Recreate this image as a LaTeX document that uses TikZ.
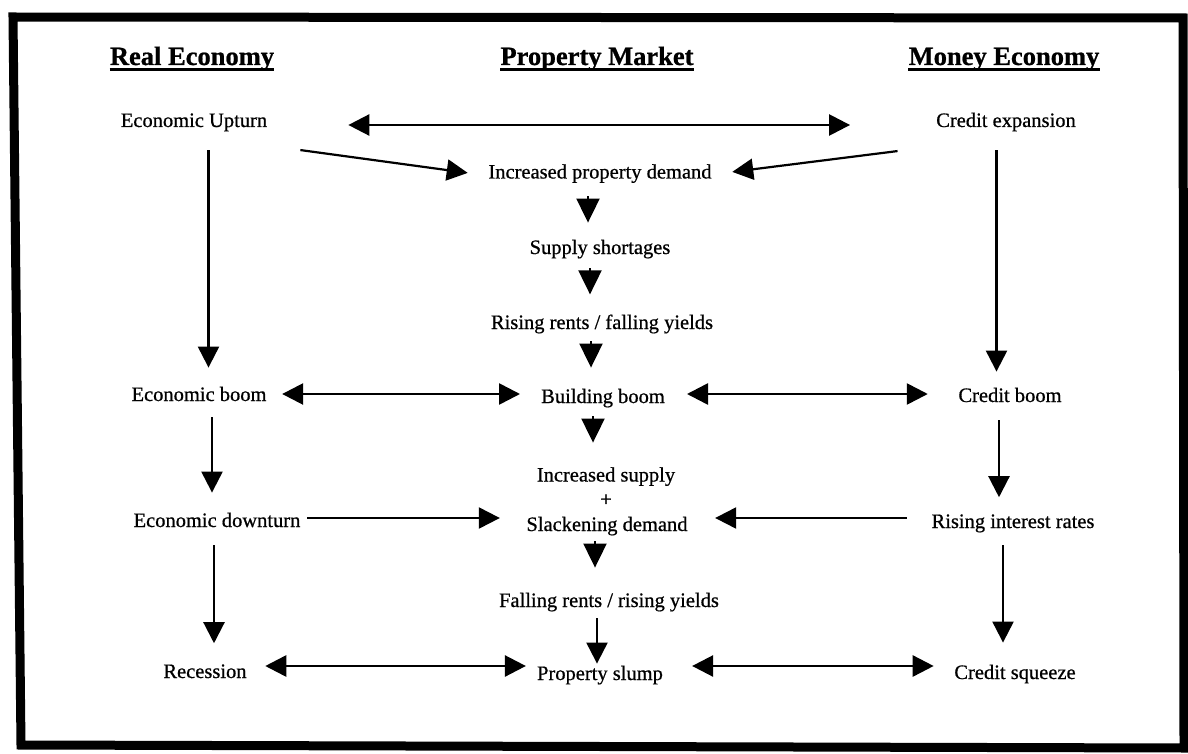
\documentclass[tikz,border=0pt]{standalone}
\usepackage{fontspec}
\setmainfont{Liberation Serif}[UprightFeatures={FakeBold=0.7},BoldFeatures={FakeBold=0.8}]
\usetikzlibrary{arrows.meta,calc}

\begin{document}
\begin{tikzpicture}[x=1pt,y=-1pt,
  lbl/.style={inner sep=0pt, anchor=base, font=\fontsize{20.5}{24.75}\selectfont},
  head/.style={inner sep=0pt, anchor=base, font=\fontsize{26.5}{30}\selectfont\bfseries},
  tip/.tip={Triangle[length=21pt,width=21pt]},
  arr/.style={line width=2.2pt, -tip},
  dbl/.style={line width=2.6pt, tip-tip},
  stub/.style={line width=2pt, -{Triangle[length=24pt,width=23pt]}},
  uline/.style={line width=2.8pt},
  frame/.style={line width=9pt, line join=miter}]

\useasboundingbox (0,0) rectangle (1188,754);
\draw[frame] (13,17) -- (1183,18) -- (1184,748) -- (21,745) -- cycle;

% column headings
\node[head] (hR) at (192,65) {Real Economy};
\node[head] (hP) at (597,65) {Property Market};
\node[head] (hM) at (1004,65) {Money Economy};
\foreach \h in {hR,hP,hM}
  \draw[uline] ([yshift=-4.5pt]\h.base west) -- ([yshift=-4.5pt]\h.base east);

% real economy
\node[lbl] (up)  at (194,127) {Economic Upturn};
\node[lbl] (eb)  at (199,401) {Economic boom};
\node[lbl] (ed)  at (217,527) {Economic downturn};
\node[lbl] (rec) at (205,678) {Recession};

% property market
\node[lbl] (ipd)  at (600,178.5) {Increased property demand};
\node[lbl] (ss)   at (600,254) {Supply shortages};
\node[lbl] (rr)   at (602,329) {Rising rents / falling yields};
\node[lbl] (bb)   at (603,403) {Building boom};
\node[lbl] (isup) at (606,481.5) {Increased supply};
\node[lbl] (plus) at (606,506) {+};
\node[lbl] (slk)  at (607,531) {Slackening demand};
\node[lbl] (fr)   at (609,607) {Falling rents / rising yields};
\node[lbl] (ps)   at (600,680) {Property slump};

% money economy
\node[lbl] (cexp) at (1006,127) {Credit expansion};
\node[lbl] (cb)   at (1010,402) {Credit boom};
\node[lbl] (rir)  at (1013,528) {Rising interest rates};
\node[lbl] (csq)  at (1015,679) {Credit squeeze};

% guide lines for the connectors
\coordinate (cL1) at (208.5,0);
\coordinate (cL2) at (212,0);
\coordinate (cL3) at (214,0);
\coordinate (cR1) at (996.5,0);
\coordinate (cR2) at (999,0);
\coordinate (cR3) at (1003,0);
\coordinate (m1) at (588,0);
\coordinate (m2) at (590,0);
\coordinate (m3) at (591,0);
\coordinate (m4) at (593,0);
\coordinate (m5) at (595,0);
\coordinate (m6) at (597,0);
\coordinate (r1) at (0,125);
\coordinate (r2) at (0,394);
\coordinate (r3) at (0,518);
\coordinate (r4) at (0,666);

% top row
\draw[dbl, shorten <=81pt, shorten >=86pt] (up.east |- r1) -- (cexp.west |- r1);
\draw[arr] ($(up.south east)+(33,18.5)$) -- ($(ipd.west)+(-20.5,-0.7)$);
\draw[arr] ($(cexp.south west)+(-38.5,19.5)$) -- ($(ipd.east)+(20.5,-1.7)$);

% left column
\draw[arr, shorten <=18.5pt, shorten >=19pt] (up.south -| cL1) -- (eb.north -| cL1);
\draw[arr, shorten <=16pt, shorten >=20pt] (eb.south -| cL2) -- (ed.north -| cL2);
\draw[arr, shorten <=18pt, shorten >=21pt] (ed.south -| cL3) -- (rec.north -| cL3);

% right column
\draw[arr, shorten <=18.5pt, shorten >=16pt] (cexp.south -| cR1) -- (cb.north -| cR1);
\draw[arr, shorten <=18pt, shorten >=17pt] (cb.south -| cR2) -- (rir.north -| cR2);
\draw[arr, shorten <=12.5pt, shorten >=22pt] (rir.south -| cR3) -- (csq.north -| cR3);

% middle column
\draw[stub, shorten <=13pt, shorten >=17pt] (ipd.south -| m1) -- (ss.north -| m1);
\draw[stub, shorten <=9.5pt, shorten >=20pt] (ss.south -| m2) -- (rr.north -| m2);
\draw[stub, shorten <=7.5pt, shorten >=21pt] (rr.south -| m3) -- (bb.north -| m3);
\draw[stub, shorten <=8.5pt, shorten >=24.5pt] (bb.south -| m4) -- (isup.north -| m4);
\draw[stub, shorten <=5.5pt, shorten >=25pt] (slk.south -| m5) -- (fr.north -| m5);
\draw[arr, shorten <=6.5pt, shorten >=2pt] (fr.south -| m6) -- (ps.north -| m6);

% cross links
\draw[dbl, shorten <=15.5pt, shorten >=21pt] (eb.east |- r2) -- (bb.west |- r2);
\draw[dbl, shorten <=22pt, shorten >=30.5pt] (bb.east |- r2) -- (cb.west |- r2);
\draw[arr, shorten <=6.6pt, shorten >=26.4pt] (ed.east |- r3) -- (slk.west |- r3);
\draw[arr, shorten <=24.5pt, shorten >=27.4pt] (rir.west |- r3) -- (slk.east |- r3);
\draw[dbl, shorten <=18.5pt, shorten >=11pt] (rec.east |- r4) -- (ps.west |- r4);
\draw[dbl, shorten <=29pt, shorten >=20.5pt] (ps.east |- r4) -- (csq.west |- r4);
\end{tikzpicture}
\end{document}
